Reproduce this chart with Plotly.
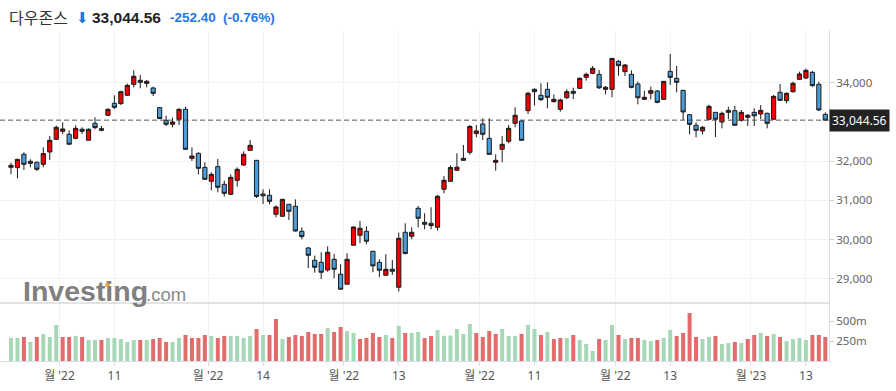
import plotly.graph_objects as go

# ---------------- data ----------------
name = "다우존스"
last_change = "-252.40"
last_change_pct = "(-0.76%)"

opens = [31842, 31834, 32174, 31995, 31970, 31919, 32233, 32556, 32760, 32684,
         32581, 32811, 32531, 32964, 32828, 33168, 33474, 33466, 33678, 33959,
         34061, 33984, 33865, 33364, 33041, 32939, 33066, 33321, 32070, 32198,
         31841, 31484, 31858, 31408, 31152, 31510, 31900, 32275, 32020, 31160,
         31127, 30643, 30592, 30898, 30847, 30209, 29784, 29470, 29419, 29223,
         29495, 29114, 28859, 29853, 30108, 30210, 29700, 29419, 29088, 29241,
         28782, 30185, 30083, 30796, 30439, 30414, 30312, 31281, 31485, 31766,
         32072, 32224, 32701, 32947, 32581, 31969, 32301, 32505, 32964, 33023,
         33287, 33831, 33678, 33831, 33516, 33321, 33618, 33780, 33856, 34137,
         34239, 34213, 33831, 33831, 34545, 34282, 34213, 33967, 33576, 33729,
         33788, 33576, 34290, 34111, 33806, 33185, 32913, 32769, 33066, 33244,
         32998, 33295, 33287, 33040, 33117, 33244, 33202, 33219, 33066, 33754,
         33542, 33771, 34086, 34120, 34264, 33958, 33193]
highs = [31961, 32054, 32225, 32046, 31987, 32352, 32641, 32905, 32990, 32785,
         32913, 32862, 32836, 33117, 32896, 33347, 33678, 33797, 33976, 34316,
         34197, 34069, 33899, 33381, 33159, 33109, 33347, 33389, 32351, 32224,
         31969, 31714, 32053, 31501, 31663, 31841, 32249, 32538, 32028, 31280,
         31280, 30872, 31034, 30906, 31025, 30311, 29810, 29589, 29674, 29827,
         29631, 29369, 29649, 30329, 30473, 30338, 29708, 29496, 29624, 29479,
         30176, 30414, 30312, 30856, 30669, 30822, 31137, 31621, 31893, 32199,
         32411, 32913, 32922, 33092, 33092, 32173, 32641, 32921, 33372, 33049,
         33771, 33856, 33984, 34009, 33703, 33593, 33831, 33873, 34137, 34256,
         34426, 34324, 33916, 34621, 34579, 34477, 34316, 34027, 33797, 33899,
         33814, 34035, 34732, 34426, 33814, 33202, 32989, 32896, 33440, 33244,
         33261, 33389, 33406, 33304, 33202, 33346, 33431, 33236, 33686, 33967,
         33754, 34027, 34282, 34358, 34298, 34027, 33244]
lows = [31663, 31561, 31774, 31842, 31749, 31842, 32029, 32539, 32692, 32429,
        32556, 32692, 32531, 32811, 32760, 33151, 33329, 33432, 33661, 33882,
        33857, 33882, 33661, 33083, 32896, 32862, 32921, 32301, 32003, 31663,
        31518, 31255, 31204, 31093, 31135, 31348, 31883, 32266, 31059, 30906,
        30898, 30566, 30583, 30498, 30200, 30005, 29274, 29155, 28994, 29181,
        29011, 28731, 28859, 29853, 29904, 29879, 29165, 29037, 29088, 29097,
        28672, 29624, 30006, 30312, 30261, 30261, 30227, 31179, 31468, 31766,
        32012, 32165, 32607, 32539, 32165, 31757, 31969, 32454, 32862, 32530,
        33202, 33423, 33533, 33346, 33499, 33261, 33584, 33584, 33839, 34052,
        34213, 33839, 33703, 33627, 34180, 34171, 33857, 33448, 33559, 33576,
        33474, 33559, 33941, 33754, 33049, 32683, 32607, 32683, 33066, 32615,
        32836, 33074, 32905, 33007, 32896, 32896, 33074, 32836, 33049, 33533,
        33474, 33746, 34069, 34094, 33899, 33278, 33023]
closes = [31893, 32046, 31919, 31944, 31791, 32191, 32531, 32862, 32820, 32429,
          32836, 32760, 32811, 32854, 32786, 33321, 33372, 33771, 33933, 34163,
          34010, 34035, 33729, 33083, 32939, 32998, 33321, 32301, 32130, 31816,
          31535, 31663, 31331, 31178, 31586, 31790, 32173, 32402, 31100, 31115,
          30974, 30830, 31025, 30719, 30217, 30073, 29597, 29291, 29164, 29674,
          29240, 28731, 29496, 30320, 30287, 29955, 29326, 29215, 29241, 29190,
          30031, 29640, 30185, 30541, 30388, 30355, 31103, 31511, 31837, 31845,
          32020, 32887, 32769, 32684, 32173, 32020, 32428, 32837, 33168, 32530,
          33729, 33771, 33567, 33627, 33576, 33560, 33771, 33729, 34111, 34213,
          34366, 33870, 33882, 34621, 34434, 34452, 33882, 33615, 33627, 33797,
          33499, 34035, 34137, 34009, 33253, 32938, 32785, 32862, 33397, 33066,
          33219, 33244, 32913, 33244, 33168, 33155, 33295, 32964, 33652, 33550,
          33729, 33984, 34222, 34315, 33924, 33304, 33044.56]
volumes_m = [288, 288, 300, 238, 300, 338, 300, 450, 300, 300,
             313, 300, 263, 263, 263, 288, 288, 275, 238, 263,
             263, 263, 275, 288, 238, 238, 288, 325, 288, 288,
             325, 313, 288, 313, 313, 313, 288, 313, 400, 325,
             325, 525, 275, 300, 325, 313, 363, 338, 338, 413,
             363, 425, 375, 350, 275, 288, 350, 300, 325, 288,
             438, 350, 350, 363, 288, 313, 388, 315, 317, 400,
             338, 463, 350, 300, 375, 338, 400, 313, 313, 338,
             450, 400, 325, 363, 275, 288, 288, 325, 263, 213,
             125, 275, 263, 450, 325, 275, 288, 288, 263, 250,
             263, 288, 388, 313, 350, 600, 300, 275, 300, 313,
             213, 225, 238, 225, 275, 325, 350, 313, 338, 300,
             250, 275, 288, 263, 325, 325, 300]

tick_pos = [7.5, 16, 30.5, 39, 51.5, 60, 72.5, 81, 93.5, 102, 114.5, 123]
tick_labels = ["월 '22", "11", "월 '22", "14", "월 '22", "13",
               "월 '22", "11", "월 '22", "13", "월 '23", "13"]
price_ticks = [29000, 30000, 31000, 32000, 34000]
vol_ticks = [250, 500]
vol_tick_labels = ["250m", "500m"]

# ---------------- styling ----------------
RED = "#f20000"
BLUE = "#4b9cd8"
VOL_UP = "#a6d8b7"
VOL_DN = "#e26b6b"
GRID = "#f2f2f2"
FONT = "Noto Sans, Noto Sans CJK KR, sans-serif"

n = len(closes)
xs = list(range(n))
vol_up = [True] + [closes[i] > closes[i - 1] for i in range(1, n)]
vol_colors = [VOL_UP if u else VOL_DN for u in vol_up]

W, H = 896, 391
ML, MR, MT, MB = 0, 67, 30, 30
PW = W - ML - MR
PH = H - MT - MB
vol_frac = 58 / PH
xrange_ = [-1.70, 126.57]

fig = go.Figure()
fig.add_trace(go.Candlestick(
    x=xs, open=opens, high=highs, low=lows, close=closes,
    xaxis="x2", yaxis="y",
    increasing=dict(fillcolor=RED, line=dict(color="#1a1a1a", width=1)),
    decreasing=dict(fillcolor=BLUE, line=dict(color="#1a1a1a", width=1)),
    whiskerwidth=0, showlegend=False,
))
fig.add_trace(go.Bar(
    x=xs, y=volumes_m, marker=dict(color=vol_colors, line=dict(width=0)),
    xaxis="x", yaxis="y2", showlegend=False,
))

def px_x(p):
    return (p - ML) / PW

def px_y(p):
    return (H - MB - p) / PH

ann = []
ann.append(dict(text=name, x=px_x(7), y=px_y(17), xref="paper", yref="paper",
                xanchor="left", yanchor="middle", showarrow=False,
                font=dict(family="Noto Sans CJK KR", size=16, color="#333333")))
ann.append(dict(text="⬇", x=px_x(82), y=px_y(18), xref="paper", yref="paper",
                xanchor="center", yanchor="middle", showarrow=False,
                font=dict(family="DejaVu Sans", size=15, color="#1f78e0")))
ann.append(dict(text="<b>33,044.56</b>", x=px_x(90), y=px_y(17), xref="paper", yref="paper",
                xanchor="left", yanchor="middle", showarrow=False,
                font=dict(family="Liberation Sans, Arial", size=15.5, color="#222222")))
ann.append(dict(text="<b>" + last_change + "</b>", x=px_x(168), y=px_y(17.5), xref="paper", yref="paper",
                xanchor="left", yanchor="middle", showarrow=False,
                font=dict(family="Liberation Sans, Arial", size=13.5, color="#1f78e0")))
ann.append(dict(text="<b>" + last_change_pct + "</b>", x=px_x(220.5), y=px_y(17.5), xref="paper", yref="paper",
                xanchor="left", yanchor="middle", showarrow=False,
                font=dict(family="Liberation Sans, Arial", size=13.5, color="#1f78e0")))
# current price label
ann.append(dict(text=f"{closes[-1]:,.2f}", x=1, y=closes[-1], xref="paper", yref="y",
                xanchor="left", yanchor="middle", showarrow=False, bgcolor="#222222",
                borderpad=2, font=dict(family=FONT, size=12, color="#ffffff")))
# watermark
ann.append(dict(text="<b>Investing</b>", x=px_x(20.5), y=px_y(291), xref="paper", yref="paper",
                xanchor="left", yanchor="middle", showarrow=False,
                font=dict(family="Liberation Sans, Arial", size=28.5, color="#808080")))
ann.append(dict(text=".com", x=px_x(144), y=px_y(294), xref="paper", yref="paper",
                xanchor="left", yanchor="middle", showarrow=False,
                font=dict(family="Liberation Sans, Arial", size=18.5, color="#888888")))

shapes = [
    dict(type="line", xref="paper", yref="y", x0=0, x1=1, y0=closes[-1], y1=closes[-1],
         line=dict(color="#555555", width=1, dash="5px,3px")),
    dict(type="line", xref="paper", yref="paper", x0=0, x1=1, y0=vol_frac, y1=vol_frac,
         line=dict(color="#c8c8c8", width=1)),
    # orange accent on the watermark's "i"
    dict(type="path", xref="paper", yref="paper", line=dict(width=0), fillcolor="#f5a623",
         path=(f"M {px_x(104.8)},{px_y(286.5)} L {px_x(106.6)},{px_y(281.3)} "
               f"L {px_x(110.8)},{px_y(281.3)} L {px_x(109.4)},{px_y(286.5)} Z")),
]

fig.update_layout(
    width=W, height=H,
    margin=dict(l=ML, r=MR, t=MT, b=MB),
    paper_bgcolor="white", plot_bgcolor="white",
    showlegend=False, bargap=0.38, boxgap=0.35, boxgroupgap=0,
    font=dict(family=FONT, size=12, color="#555555"),
    xaxis=dict(domain=[0, 1], anchor="y2", range=xrange_, tickvals=tick_pos, ticktext=tick_labels,
               showgrid=True, gridcolor=GRID, showline=True, linecolor="#d9dde3",
               ticks="outside", ticklen=4, tickcolor="#d9dde3", zeroline=False,
               tickfont=dict(family=FONT, size=12, color="#555555"), fixedrange=True),
    xaxis2=dict(domain=[0, 1], anchor="y", matches="x", range=xrange_, tickvals=tick_pos,
                showticklabels=False, showgrid=True, gridcolor=GRID, zeroline=False,
                rangeslider=dict(visible=False), ticks=""),
    yaxis=dict(domain=[vol_frac, 1], anchor="x2", side="right", range=[28380.1, 35344.4],
               tickvals=price_ticks, tickformat=",", showgrid=True, gridcolor=GRID,
               showline=True, linecolor="#dddddd", ticks="outside", ticklen=4,
               tickcolor="#cccccc", zeroline=False,
               tickfont=dict(family=FONT, size=11.5, color="#666666")),
    yaxis2=dict(domain=[0, vol_frac], anchor="x", side="right", range=[0, 725],
                tickvals=vol_ticks, ticktext=vol_tick_labels, showgrid=False,
                showline=True, linecolor="#dddddd", ticks="outside", ticklen=4,
                tickcolor="#cccccc", zeroline=False,
                tickfont=dict(family=FONT, size=11.5, color="#666666")),
    annotations=ann, shapes=shapes,
)

fig.write_html("out.html", config={"displayModeBar": False},
               post_script="document.body.style.margin='0';document.body.style.overflow='hidden';")
